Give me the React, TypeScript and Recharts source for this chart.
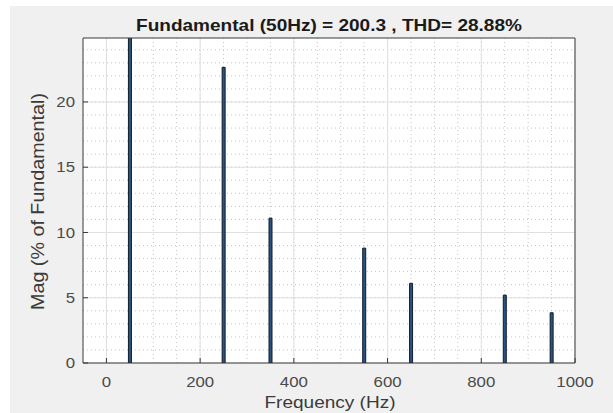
import { BarChart, Bar, XAxis, YAxis, CartesianGrid } from 'recharts';

/* ------------------------------------------------------------------ */
/*  Data (harmonic spectrum, % of fundamental)                         */
/* ------------------------------------------------------------------ */

const FREQ_HZ = [50, 250, 350, 550, 650, 850, 950];
const MAG_PCT = [100, 22.65, 11.1, 8.8, 6.1, 5.2, 3.85];

const X_TICKS = [0, 200, 400, 600, 800, 1000];
const Y_TICKS = [0, 5, 10, 15, 20];
const X_DOMAIN: [number, number] = [-50, 1000];
const Y_DOMAIN: [number, number] = [0, 24.9];

const TITLE = 'Fundamental (50Hz) = 200.3 , THD= 28.88%';
const X_LABEL = 'Frequency (Hz)';
const Y_LABEL = 'Mag (% of Fundamental)';

// minor grid every 50 Hz / 1 %
const X_MINOR = Array.from({ length: 20 }, (_, i) => i * 50);
const Y_MINOR = Array.from({ length: 24 }, (_, i) => i + 1);

const spectrum = FREQ_HZ.map((freq, i) => ({ freq, mag: MAG_PCT[i] }));

/* ------------------------------------------------------------------ */
/*  Layout / style                                                     */
/* ------------------------------------------------------------------ */

const W = 613;
const H = 413;
const FONT = '"Liberation Sans", Arial, Helvetica, sans-serif';
const STRETCH = 1.12; // the source image is a bit wider than tall
const AXIS_COLOR = '#3a3a3a';
const TICK_TEXT = '#4a4a4a';

const PLOT_LEFT = 83;
const PLOT_RIGHT = 575;
const PLOT_TOP = 38;
const PLOT_BOTTOM = 363;

function XTick({ x, y, payload }: any) {
  return (
    <text
      transform={`translate(${x},${y}) scale(${STRETCH},1)`}
      textAnchor="middle"
      dy="0.71em"
      fontSize={15}
      fontFamily={FONT}
      fill={TICK_TEXT}
    >
      {payload.value}
    </text>
  );
}

function YTick({ x, y, payload }: any) {
  return (
    <text
      transform={`translate(${x},${y}) scale(${STRETCH},1)`}
      textAnchor="end"
      dy="0.35em"
      fontSize={15}
      fontFamily={FONT}
      fill={TICK_TEXT}
    >
      {payload.value}
    </text>
  );
}

export default function App() {
  const midX = (PLOT_LEFT + PLOT_RIGHT) / 2;
  const midY = (PLOT_TOP + PLOT_BOTTOM) / 2;

  return (
    <div style={{ position: 'relative', width: W, height: H, background: '#ffffff' }}>
      <style>{'body{margin:0}'}</style>
      <div style={{ position: 'absolute', left: 10, top: 6, right: 0, bottom: 0, background: '#f0f0f0' }} />

      <div style={{ position: 'absolute', left: 0, top: 0 }}>
        <BarChart
          width={W}
          height={H}
          data={spectrum}
          margin={{ top: 30, right: 30, bottom: 20, left: 22 }}
          barSize={3}
        >
          <CartesianGrid
            fill="#ffffff"
            stroke="#c4c4c4"
            strokeDasharray="1 3"
            verticalValues={X_MINOR}
            horizontalValues={Y_MINOR}
          />
          <CartesianGrid
            stroke="#e0e0e0"
            verticalValues={X_TICKS}
            horizontalValues={Y_TICKS}
          />

          <XAxis
            dataKey="freq"
            type="number"
            domain={X_DOMAIN}
            ticks={X_TICKS}
            allowDataOverflow
            interval={0}
            height={30}
            stroke={AXIS_COLOR}
            tickSize={-5}
            tickMargin={18}
            tick={<XTick />}
          />
          <XAxis
            xAxisId="top"
            orientation="top"
            type="number"
            domain={X_DOMAIN}
            ticks={X_TICKS}
            allowDataOverflow
            interval={0}
            height={8}
            stroke={AXIS_COLOR}
            tickSize={-5}
            tick={false}
          />
          <YAxis
            type="number"
            domain={Y_DOMAIN}
            ticks={Y_TICKS}
            allowDataOverflow
            interval={0}
            width={61}
            stroke={AXIS_COLOR}
            tickSize={-5}
            tickMargin={13}
            tick={<YTick />}
          />
          <YAxis
            yAxisId="right"
            orientation="right"
            type="number"
            domain={Y_DOMAIN}
            ticks={Y_TICKS}
            allowDataOverflow
            interval={0}
            width={8}
            stroke={AXIS_COLOR}
            tickSize={-5}
            tick={false}
          />

          <Bar
            dataKey="mag"
            fill="#2a5480"
            stroke="#111c28"
            strokeWidth={1}
            isAnimationActive={false}
          />
        </BarChart>
      </div>

      {/* title and axis labels */}
      <svg
        width={W}
        height={H}
        style={{ position: 'absolute', left: 0, top: 0, pointerEvents: 'none' }}
      >
        <text
          transform={`translate(${midX},31) scale(${STRETCH},1)`}
          textAnchor="middle"
          fontSize={17}
          fontWeight="bold"
          fontFamily={FONT}
          fill="#1a1a1a"
        >
          {TITLE}
        </text>
        <text
          transform={`translate(${midX + 1},408) scale(${STRETCH},1)`}
          textAnchor="middle"
          fontSize={17}
          fontFamily={FONT}
          fill="#3a3a3a"
        >
          {X_LABEL}
        </text>
        <text
          transform={`translate(37,${midY + 1}) scale(${STRETCH},1.16) rotate(-90)`}
          textAnchor="middle"
          dy="0.35em"
          fontSize={17}
          fontFamily={FONT}
          fill="#3a3a3a"
        >
          {Y_LABEL}
        </text>
      </svg>
    </div>
  );
}
